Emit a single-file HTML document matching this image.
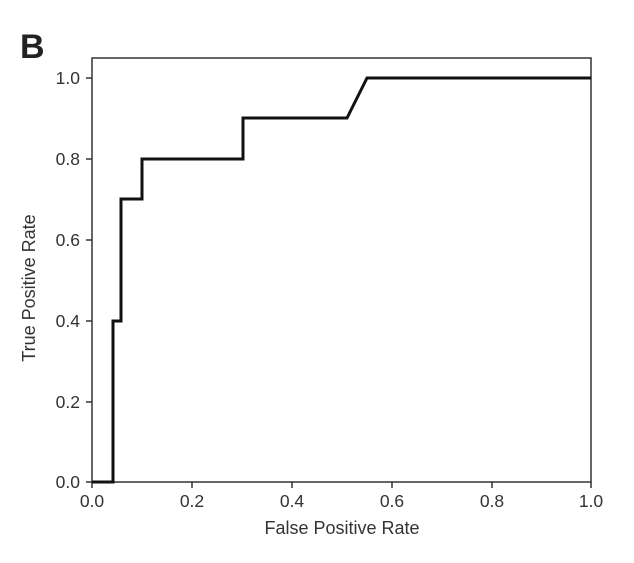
<!DOCTYPE html>
<html><head><style>body{margin:0;background:#fff}</style></head><body>
<svg width="634" height="558" xmlns="http://www.w3.org/2000/svg" font-family="Liberation Sans, Arial, sans-serif">
<rect width="634" height="558" fill="#fff"/>
<text x="20" y="58" font-size="34" font-weight="bold" fill="#222">B</text>
<rect x="92" y="58" width="499" height="424" fill="none" stroke="#333" stroke-width="1.5"/>
<g stroke="#333" stroke-width="1.5">
<line x1="86" y1="78" x2="92" y2="78"/><line x1="86" y1="159" x2="92" y2="159"/><line x1="86" y1="240" x2="92" y2="240"/><line x1="86" y1="321" x2="92" y2="321"/><line x1="86" y1="402" x2="92" y2="402"/><line x1="86" y1="482" x2="92" y2="482"/>
<line x1="92" y1="482" x2="92" y2="488"/><line x1="192" y1="482" x2="192" y2="488"/><line x1="292" y1="482" x2="292" y2="488"/><line x1="392" y1="482" x2="392" y2="488"/><line x1="492" y1="482" x2="492" y2="488"/><line x1="591" y1="482" x2="591" y2="488"/>
</g>
<g font-size="17.5" fill="#333" text-anchor="end">
<text x="80" y="84">1.0</text><text x="80" y="165">0.8</text><text x="80" y="246">0.6</text><text x="80" y="327">0.4</text><text x="80" y="408">0.2</text><text x="80" y="488">0.0</text>
</g>
<g font-size="17.5" fill="#333" text-anchor="middle">
<text x="92" y="507">0.0</text><text x="192" y="507">0.2</text><text x="292" y="507">0.4</text><text x="392" y="507">0.6</text><text x="492" y="507">0.8</text><text x="591" y="507">1.0</text>
<text x="342" y="534" font-size="18">False Positive Rate</text>
<text transform="translate(35,288) rotate(-90)" font-size="18">True Positive Rate</text>
</g>
<polyline fill="none" stroke="#111" stroke-width="3" points="92,482 113,482 113,321 121,321 121,199 142,199 142,159 243,159 243,118 347,118 367,78 591,78"/>
</svg>
</body></html>
